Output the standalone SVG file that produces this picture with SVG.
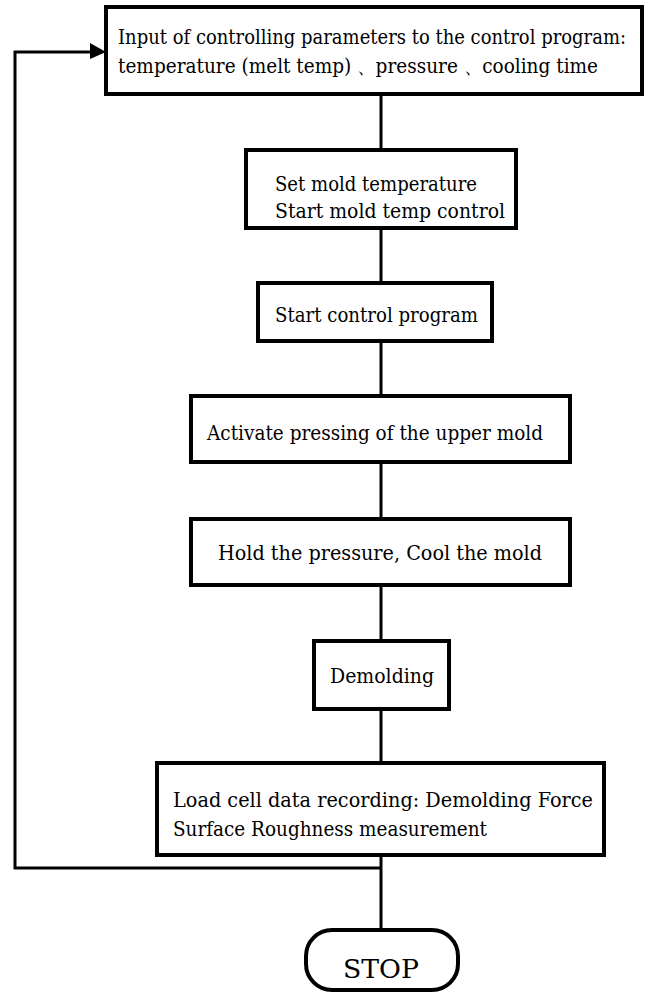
<svg xmlns="http://www.w3.org/2000/svg" width="649" height="994" viewBox="0 0 649 994">
<style>
.box{fill:#fff;stroke:#000;stroke-width:4}
.c{fill:none;stroke:#000;stroke-width:3}
text{font-family:'DejaVu Serif','Liberation Serif',serif;font-size:20px;fill:#000}
</style>
<rect width="649" height="994" fill="#fff"/>
<g id="connectors">
<line class="c" x1="381" y1="95" x2="381" y2="150"/>
<line class="c" x1="381" y1="228" x2="381" y2="283"/>
<line class="c" x1="381" y1="341" x2="381" y2="396"/>
<line class="c" x1="381" y1="462" x2="381" y2="519"/>
<line class="c" x1="381" y1="585" x2="381" y2="641"/>
<line class="c" x1="381" y1="709" x2="381" y2="763"/>
<line class="c" x1="381" y1="855" x2="381" y2="930"/>
<polyline class="c" points="381,868 15,868 15,52 92,52" stroke-width="4"/>
<polygon points="90,43 106,52 90,59" fill="#000"/>
</g>
<g id="n1">
<rect class="box" x="106" y="7" width="536" height="87"/>
<text x="118" y="44" textLength="508" lengthAdjust="spacingAndGlyphs">Input of controlling parameters to the control program:</text>
<text x="118" y="73" textLength="480" lengthAdjust="spacingAndGlyphs">temperature (melt temp) 、pressure 、cooling time</text>
</g>
<g id="n2">
<rect class="box" x="246" y="150" width="270" height="78"/>
<text x="275" y="191" textLength="202" lengthAdjust="spacingAndGlyphs">Set mold temperature</text>
<text x="275" y="218" textLength="230" lengthAdjust="spacingAndGlyphs">Start mold temp control</text>
</g>
<g id="n3">
<rect class="box" x="258" y="283" width="234" height="58"/>
<text x="275" y="322" textLength="203" lengthAdjust="spacingAndGlyphs">Start control program</text>
</g>
<g id="n4">
<rect class="box" x="191" y="396" width="379" height="66"/>
<text x="207" y="440" textLength="336" lengthAdjust="spacingAndGlyphs">Activate pressing of the upper mold</text>
</g>
<g id="n5">
<rect class="box" x="191" y="519" width="379" height="66"/>
<text x="218" y="560" textLength="324" lengthAdjust="spacingAndGlyphs">Hold the pressure, Cool the mold</text>
</g>
<g id="n6">
<rect class="box" x="314" y="641" width="135" height="68"/>
<text x="330" y="683" textLength="104" lengthAdjust="spacingAndGlyphs">Demolding</text>
</g>
<g id="n7">
<rect class="box" x="157" y="763" width="447" height="92"/>
<text x="173" y="807" textLength="420" lengthAdjust="spacingAndGlyphs">Load cell data recording: Demolding Force</text>
<text x="173" y="836" textLength="314" lengthAdjust="spacingAndGlyphs">Surface Roughness measurement</text>
</g>
<g id="stop">
<rect class="box" x="306" y="930" width="152" height="60" rx="26" ry="26"/>
<text x="343" y="978" style="font-size:26px" textLength="76" lengthAdjust="spacingAndGlyphs">STOP</text>
</g>
</svg>
